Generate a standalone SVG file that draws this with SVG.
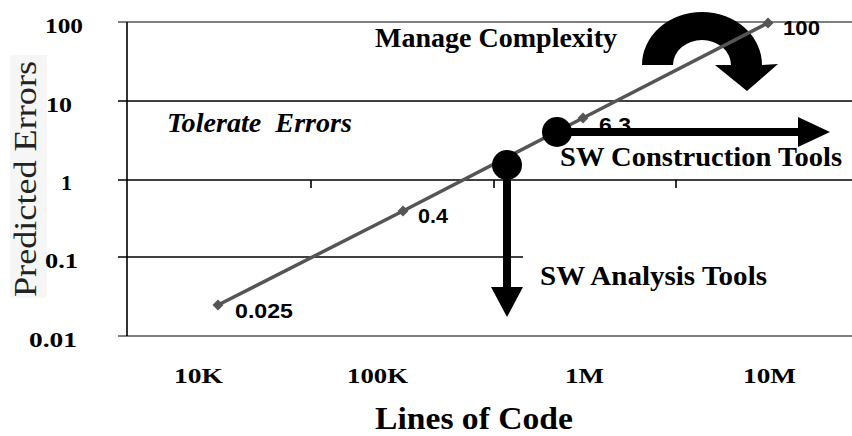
<svg xmlns="http://www.w3.org/2000/svg" width="852" height="436" viewBox="0 0 852 436">
<style>
.tb{font-family:"Liberation Serif","Times New Roman",serif;font-weight:bold;fill:#000}
.ti{font-family:"Liberation Serif","Times New Roman",serif;font-weight:bold;font-style:italic;fill:#000}
.dl{font-family:"Liberation Sans",Arial,sans-serif;font-weight:bold;font-size:21px;fill:#000}
.ax{font-size:21px}
.xl{font-size:22px}
.big{font-size:28px}
.grid{stroke:#000;stroke-width:1.6;fill:none}
.gray{stroke:#808080;stroke-width:2;fill:none}
</style>
<defs>
<path id="dia" d="M0,-5.5 L5.5,0 L0,5.5 L-5.5,0 Z" fill="#555"/>
</defs>
<rect width="852" height="436" fill="#fff"/>

<g id="axes">
<rect x="10" y="55" width="37" height="243" fill="#f6f6f6"/>
<line class="gray" x1="118" y1="22" x2="852" y2="22"/>
<line class="grid" x1="118" y1="101" x2="852" y2="101"/>
<line class="grid" x1="118" y1="180" x2="852" y2="180"/>
<line class="grid" x1="118" y1="257" x2="523" y2="257"/>
<line class="gray" x1="118" y1="336" x2="852" y2="336"/>
<line class="grid" x1="127" y1="22" x2="127" y2="336"/>
<line class="grid" x1="311" y1="180" x2="311" y2="188"/>
<line class="grid" x1="494" y1="180" x2="494" y2="188"/>
<line class="grid" x1="676" y1="180" x2="676" y2="188"/>
<text class="tb ax" x="45" y="33" textLength="38" lengthAdjust="spacingAndGlyphs">100</text>
<text class="tb ax" x="46" y="112" textLength="26" lengthAdjust="spacingAndGlyphs">10</text>
<text class="tb ax" x="61" y="190" textLength="11" lengthAdjust="spacingAndGlyphs">1</text>
<text class="tb ax" x="45" y="268" textLength="33" lengthAdjust="spacingAndGlyphs">0.1</text>
<text class="tb ax" x="29" y="347" textLength="48" lengthAdjust="spacingAndGlyphs">0.01</text>
<text class="tb xl" x="174" y="383" textLength="49" lengthAdjust="spacingAndGlyphs">10K</text>
<text class="tb xl" x="347" y="383" textLength="61" lengthAdjust="spacingAndGlyphs">100K</text>
<text class="tb xl" x="565" y="383" textLength="39" lengthAdjust="spacingAndGlyphs">1M</text>
<text class="tb xl" x="743" y="383" textLength="53" lengthAdjust="spacingAndGlyphs">10M</text>
<text class="tb" x="375" y="429" font-size="31" textLength="198" lengthAdjust="spacingAndGlyphs">Lines of Code</text>
<text x="0" y="0" transform="translate(36,297) rotate(-90)" font-family="Liberation Serif,'Times New Roman',serif" font-size="32" fill="#222" textLength="236" lengthAdjust="spacingAndGlyphs">Predicted Errors</text>
</g>

<g id="manage-complexity">
<path d="M642,65 A60,53 0 0 1 762,65 L778,64 L747,91 L715,65 L731,65 A29,25 0 0 0 673,65 Z" fill="#000"/>
<text class="tb big" x="375" y="47" font-size="27" textLength="242" lengthAdjust="spacingAndGlyphs">Manage Complexity</text>
</g>

<g id="series">
<polyline points="218,305 403,211 583,118 768,23" fill="none" stroke="#555" stroke-width="3.5"/>
<use href="#dia" x="218" y="305"/>
<use href="#dia" x="403" y="211"/>
<use href="#dia" x="583" y="118"/>
<use href="#dia" x="768" y="23"/>
<text class="dl" x="235" y="318" textLength="58" lengthAdjust="spacingAndGlyphs">0.025</text>
<text class="dl" x="418" y="223" textLength="30" lengthAdjust="spacingAndGlyphs">0.4</text>
<text class="dl" x="599" y="132" textLength="32" lengthAdjust="spacingAndGlyphs">6.3</text>
<text class="dl" x="783" y="35" textLength="37" lengthAdjust="spacingAndGlyphs">100</text>
</g>

<g id="tolerate-errors">
<text class="ti" x="167" y="132" font-size="27" xml:space="preserve" textLength="185" lengthAdjust="spacingAndGlyphs">Tolerate  Errors</text>
</g>

<g id="connectors">
<path d="M557,128 L798,128 L798,117 L830,132 L798,147 L798,136 L557,136 Z" fill="#000"/>
<path d="M503,165 L511,165 L511,287 L523,287 L507,317 L491,287 L503,287 Z" fill="#000"/>
</g>

<g id="construction">
<circle cx="557" cy="132" r="15" fill="#000"/>
<text class="tb big" x="560" y="166" textLength="282" lengthAdjust="spacingAndGlyphs">SW Construction Tools</text>
</g>

<g id="analysis">
<circle cx="507" cy="165" r="15" fill="#000"/>
<text class="tb big" x="540" y="285" textLength="227" lengthAdjust="spacingAndGlyphs">SW Analysis Tools</text>
</g>
</svg>
